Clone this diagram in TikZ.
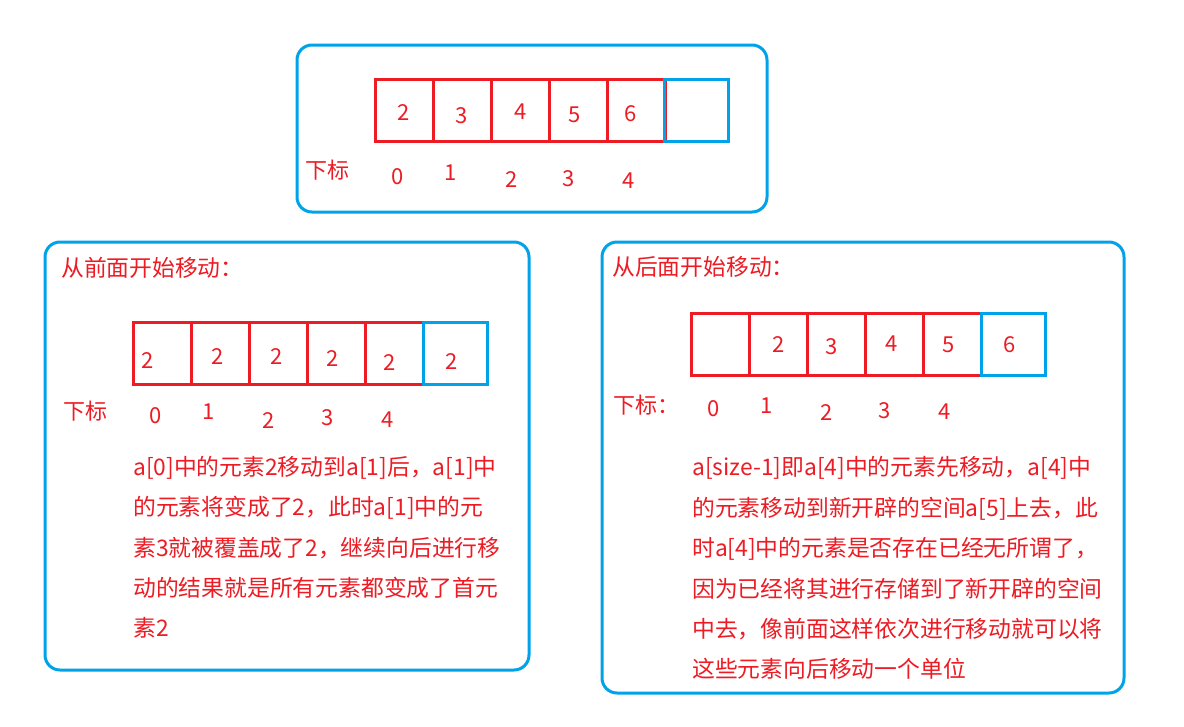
\documentclass[tikz,border=0pt]{standalone}
\usepackage{fontspec}
\setmainfont{Noto Sans CJK SC}
\definecolor{cred}{HTML}{ED1C24}
\definecolor{cblue}{HTML}{00A2E8}
\begin{document}
\begin{tikzpicture}[x=1pt,y=-1pt,
  panel/.style={draw=cblue, line width=3pt, rounded corners=15pt},
  rcell/.style={draw=cred, line width=3pt, minimum width=58pt, minimum height=62pt, inner sep=0pt},
  bcell/.style={draw=cblue, line width=3pt, minimum width=64pt, minimum height=62pt, inner sep=0pt},
  val/.style={text=cred, inner sep=0pt, font=\fontsize{22}{26}\selectfont},
  txt/.style={text=cred, inner sep=0pt, anchor=west, font=\fontsize{22.8}{27}\selectfont}]
\useasboundingbox (0,0) rectangle (1184,726);
\fill[white] (0,0) rectangle (1184,726);

% panels
\draw[panel] (297,45) rectangle (767,212);
\draw[panel] (45,242) rectangle (529,670);
\draw[panel] (602,242) rectangle (1124,693);

% ---------- top panel ----------
\foreach \i/\x in {0/404,1/462,2/520,3/578,4/636}
  \node[rcell] (t\i) at (\x,110.5) {};
\node[bcell] (t5) at (696,110.5) {};
\node[val] (tv0) at (404,113) {2};
\node[val] (tv1) at (462,116) {3};
\node[val] (tv2) at (521,112) {4};
\node[val] (tv3) at (575,115) {5};
\node[val] (tv4) at (631,114) {6};
\node[val] (tlab) at (327,170) {下标};
\node[val] (ti0) at (398,177) {0};
\node[val] (ti1) at (451,173) {1};
\node[val] (ti2) at (512,180) {2};
\node[val] (ti3) at (569,179) {3};
\node[val] (ti4) at (629,181) {4};

% ---------- left panel ----------
\node[txt] (ltitle) at (61,268) {从前面开始移动：};
\foreach \i/\x in {0/162,1/220,2/278,3/336,4/394}
  \node[rcell] (l\i) at (\x,353) {};
\node[bcell] (l5) at (455,353) {};
\node[val] (lv0) at (148,361) {2};
\node[val] (lv1) at (218,357) {2};
\node[val] (lv2) at (277,357) {2};
\node[val] (lv3) at (333,359) {2};
\node[val] (lv4) at (390,363) {2};
\node[val] (lv5) at (452,362) {2};
\node[val] (llab) at (85,411) {下标};
\node[val] (li0) at (156,416) {0};
\node[val] (li1) at (209,412) {1};
\node[val] (li2) at (269,421) {2};
\node[val] (li3) at (328,418) {3};
\node[val] (li4) at (388,420) {4};
\node[txt] (la) at (133,468) {a[0]中的元素2移动到a[1]后，a[1]中};
\node[txt] (lb) at (133,508) {的元素将变成了2，此时a[1]中的元};
\node[txt] (lc) at (133,548) {素3就被覆盖成了2，继续向后进行移};
\node[txt] (ld) at (133,588) {动的结果就是所有元素都变成了首元};
\node[txt] (le) at (133,628) {素2};

% ---------- right panel ----------
\node[txt] (rtitle) at (612,267) {从后面开始移动：};
\foreach \i/\x in {0/720,1/778,2/836,3/894,4/952}
  \node[rcell] (r\i) at (\x,344) {};
\node[bcell] (r5) at (1013,344) {};
\node[val] (rv1) at (779,345) {2};
\node[val] (rv2) at (832,347) {3};
\node[val] (rv3) at (892,344) {4};
\node[val] (rv4) at (949,345) {5};
\node[val] (rv5) at (1010,345) {6};
\node[val, anchor=west] (rlab) at (613,405) {下标：};
\node[val] (ri0) at (714,409) {0};
\node[val] (ri1) at (767,406) {1};
\node[val] (ri2) at (827,413) {2};
\node[val] (ri3) at (885,411) {3};
\node[val] (ri4) at (945,412) {4};
\node[txt] (ra) at (692,468) {a[size-1]即a[4]中的元素先移动，a[4]中};
\node[txt] (rb) at (692,509) {的元素移动到新开辟的空间a[5]上去，此};
\node[txt] (rc) at (692,549) {时a[4]中的元素是否存在已经无所谓了，};
\node[txt] (rd) at (692,589) {因为已经将其进行存储到了新开辟的空间};
\node[txt] (re) at (692,629) {中去，像前面这样依次进行移动就可以将};
\node[txt] (rf) at (692,669) {这些元素向后移动一个单位};
\end{tikzpicture}
\end{document}
